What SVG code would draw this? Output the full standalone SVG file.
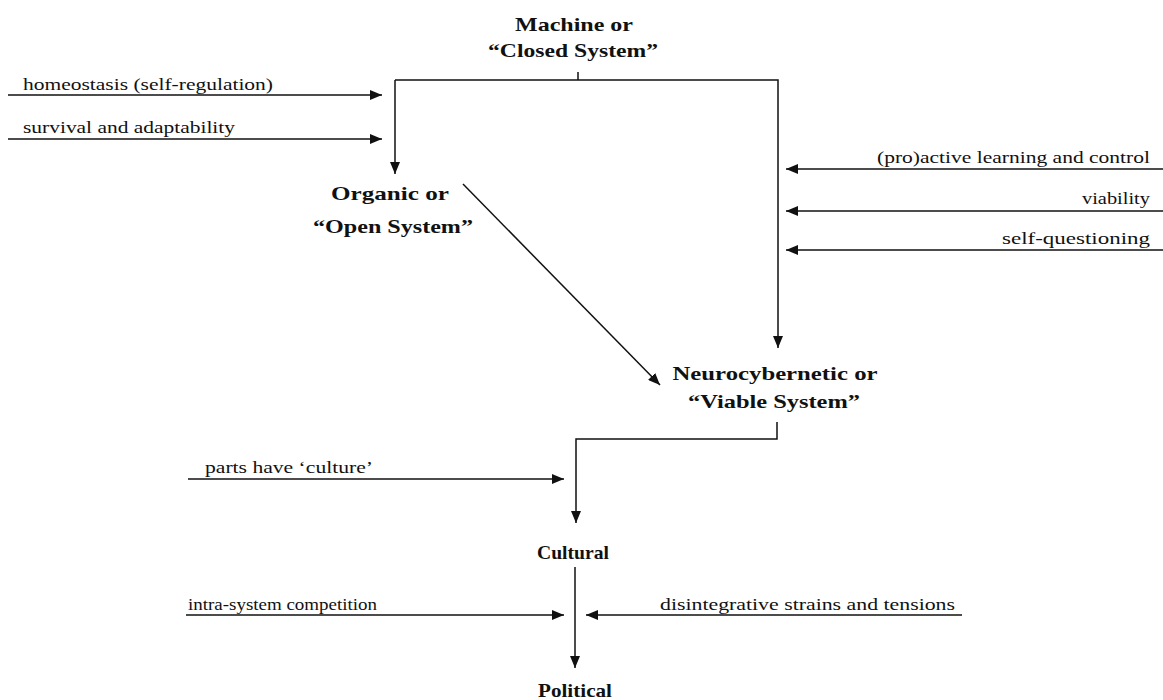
<svg xmlns="http://www.w3.org/2000/svg" width="1163" height="700" viewBox="0 0 1163 700">
  <defs>
    <marker id="arrow" viewBox="0 0 12 10" refX="12" refY="5" markerWidth="12" markerHeight="10" markerUnits="userSpaceOnUse" orient="auto">
      <path d="M0,0 L12,5 L0,10 z" fill="#111"/>
    </marker>
    <style>
      .node { font-family: "Liberation Serif", "Times New Roman", serif; font-weight: bold; font-size: 19px; fill: #111; text-anchor: middle; }
      .lbl { font-family: "Liberation Serif", "Times New Roman", serif; font-size: 17px; fill: #111; }
      .ln { stroke: #111; stroke-width: 1.5; fill: none; }
      .arr { stroke: #111; stroke-width: 1.5; fill: none; marker-end: url(#arrow); }
    </style>
  </defs>
  <rect width="1163" height="700" fill="#fff"/>

  <!-- system types -->
  <g id="machine">
    <text class="node" x="574" y="31" textLength="118" lengthAdjust="spacingAndGlyphs">Machine or</text>
    <text class="node" x="573" y="57" textLength="170" lengthAdjust="spacingAndGlyphs">“Closed System”</text>
  </g>
  <g id="organic">
    <text class="node" x="390" y="200" textLength="118" lengthAdjust="spacingAndGlyphs">Organic or</text>
    <text class="node" x="393" y="233" textLength="160" lengthAdjust="spacingAndGlyphs">“Open System”</text>
  </g>
  <g id="neurocybernetic">
    <text class="node" x="775" y="380" textLength="205" lengthAdjust="spacingAndGlyphs">Neurocybernetic or</text>
    <text class="node" x="774" y="408" textLength="172" lengthAdjust="spacingAndGlyphs">“Viable System”</text>
  </g>
  <g id="cultural">
    <text class="node" x="573" y="559" textLength="72" lengthAdjust="spacingAndGlyphs">Cultural</text>
  </g>
  <g id="political">
    <text class="node" x="575" y="697" textLength="74" lengthAdjust="spacingAndGlyphs">Political</text>
  </g>

  <!-- influences and transitions -->
  <g id="connectors">
    <!-- machine to organic / neurocybernetic -->
    <path class="ln" d="M578,72 V80"/>
    <path class="arr" d="M395,80 H778 V348"/>
    <path class="arr" d="M395,80 V174"/>
    <!-- organic to neurocybernetic -->
    <path class="arr" d="M463,184 L660,385"/>
    <!-- neurocybernetic to cultural -->
    <path class="arr" d="M777,422 V439 H576 V523"/>
    <!-- cultural to political -->
    <path class="arr" d="M575,567 V668"/>

    <!-- left inputs -->
    <path class="arr" d="M8,95 H382"/>
    <path class="arr" d="M8,139 H382"/>
    <path class="arr" d="M188,479 H564"/>
    <path class="arr" d="M186,615 H564"/>
    <!-- right inputs -->
    <path class="arr" d="M1163,169 H786"/>
    <path class="arr" d="M1163,211 H786"/>
    <path class="arr" d="M1163,250 H786"/>
    <path class="arr" d="M962,615 H586"/>
  </g>

  <g id="labels">
    <text class="lbl" x="23" y="90" textLength="250" lengthAdjust="spacingAndGlyphs">homeostasis (self-regulation)</text>
    <text class="lbl" x="23" y="133" textLength="212" lengthAdjust="spacingAndGlyphs">survival and adaptability</text>
    <text class="lbl" x="877" y="163" textLength="273" lengthAdjust="spacingAndGlyphs">(pro)active learning and control</text>
    <text class="lbl" x="1082" y="204" textLength="68" lengthAdjust="spacingAndGlyphs">viability</text>
    <text class="lbl" x="1002" y="244" textLength="148" lengthAdjust="spacingAndGlyphs">self-questioning</text>
    <text class="lbl" x="205" y="473" textLength="168" lengthAdjust="spacingAndGlyphs">parts have ‘culture’</text>
    <text class="lbl" x="188" y="610" textLength="189" lengthAdjust="spacingAndGlyphs">intra-system competition</text>
    <text class="lbl" x="660" y="610" textLength="295" lengthAdjust="spacingAndGlyphs">disintegrative strains and tensions</text>
  </g>
</svg>
